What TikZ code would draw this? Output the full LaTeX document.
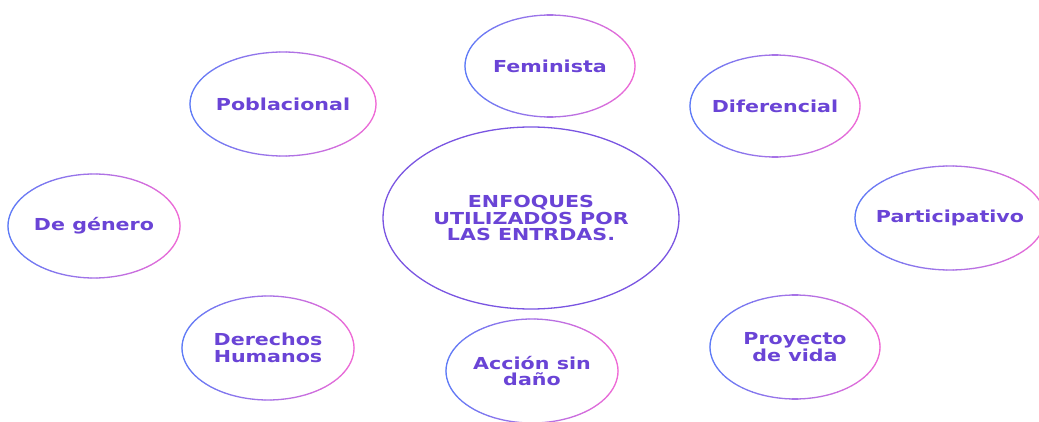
\documentclass[tikz,border=0pt]{standalone}
\usepackage{fontspec}
\newfontfamily\labfont{DejaVu Sans}[FakeStretch=1.25]
\usetikzlibrary{shapes.geometric}
\definecolor{gblue}{HTML}{5E7BF7}
\definecolor{gpink}{HTML}{F06AD6}
\definecolor{txt}{HTML}{6A44D6}
\definecolor{cring}{HTML}{7A55E2}
\tikzset{
  lab/.style={font=\labfont\bfseries\fontsize{16.5}{16.5}\selectfont, text=txt, align=center, inner sep=0pt},
  ringline/.style={line width=1.3pt, line cap=round}
}
\newcommand\gradring[3]{%
  \foreach \a in {0,4,...,356}{%
    \pgfmathsetmacro\t{50*(1+cos(\a+2))}%
    \draw[ringline, gpink!\t!gblue] ([shift={(\a:#2pt and #3pt)}]#1.center)
      arc[start angle=\a, delta angle=4, x radius=#2pt, y radius=#3pt];
  }%
}
\begin{document}
\begin{tikzpicture}[x=1pt,y=1pt]
\clip (0,0) rectangle (1039,-422);
\fill[white] (0,0) rectangle (1039,-422);

\node[lab] (ctr) at (531,-218) {ENFOQUES\\UTILIZADOS POR\\LAS ENTRDAS.};
\draw[cring, line width=1.3pt] (ctr.center) ellipse[x radius=148pt, y radius=91pt];

\node[lab] (fem) at (550,-66) {Feminista};
\node[lab] (pob) at (283,-104) {Poblacional};
\node[lab] (dif) at (775,-106) {Diferencial};
\node[lab] (gen) at (94,-226) {De género};
\node[lab] (par) at (950,-218) {Participativo};
\node[lab] (der) at (268,-348) {Derechos\\Humanos};
\node[lab] (acc) at (532,-371) {Acción sin\\daño};
\node[lab] (pro) at (795,-347) {Proyecto\\de vida};

\gradring{fem}{85}{51}
\gradring{pob}{93}{52}
\gradring{dif}{85}{51}
\gradring{gen}{86}{52}
\gradring{par}{95}{52}
\gradring{der}{86}{52}
\gradring{acc}{86}{52}
\gradring{pro}{85}{52}
\end{tikzpicture}
\end{document}
